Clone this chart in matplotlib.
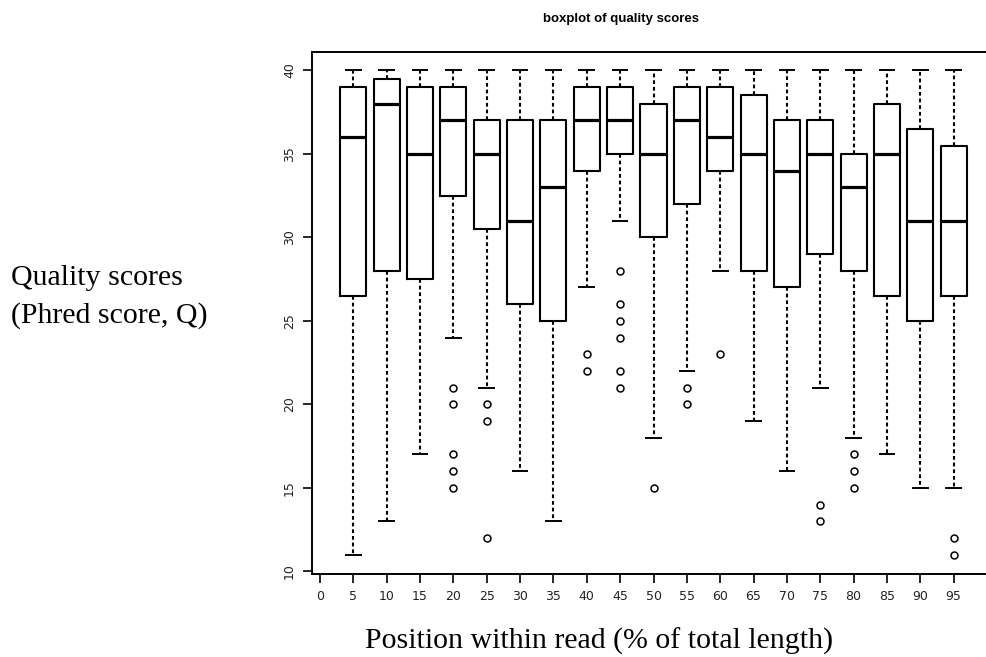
import matplotlib.pyplot as plt

# positions along the read (% of total length)
positions = [5, 10, 15, 20, 25, 30, 35, 40, 45, 50, 55, 60, 65, 70, 75, 80, 85, 90, 95]
whislo = [11, 13, 17, 24, 21, 16, 13, 27, 31, 18, 22, 28, 19, 16, 21, 18, 17, 15, 15]
q1 = [26.5, 28, 27.5, 32.5, 30.5, 26, 25, 34, 35, 30, 32, 34, 28, 27, 29, 28, 26.5, 25, 26.5]
med = [36, 38, 35, 37, 35, 31, 33, 37, 37, 35, 37, 36, 35, 34, 35, 33, 35, 31, 31]
q3 = [39, 39.5, 39, 39, 37, 37, 37, 39, 39, 38, 39, 39, 38.5, 37, 37, 35, 38, 36.5, 35.5]
whishi = [40] * 19
fliers = [[], [], [], [21, 20, 17, 16, 15], [20, 19, 12], [], [], [23, 22],
          [28, 26, 25, 24, 22, 21], [15], [21, 20], [23], [], [], [14, 13], [17, 16, 15],
          [], [], [12, 11]]

xticks = list(range(0, 100, 5))
yticks = [10, 15, 20, 25, 30, 35, 40]

stats = []
for i in range(len(positions)):
    stats.append(dict(whislo=whislo[i], q1=q1[i], med=med[i], q3=q3[i],
                      whishi=whishi[i], fliers=fliers[i]))

fig = plt.figure(figsize=(9.87, 6.57), dpi=100)
ax = fig.add_axes([312 / 987, 1 - 574 / 657, 1 - 312 / 987, (574 - 52) / 657])

ax.bxp(stats, positions=positions, widths=3.9, showfliers=True,
       boxprops=dict(color='black', linewidth=1.5),
       medianprops=dict(color='black', linewidth=2.3),
       whiskerprops=dict(color='black', linewidth=1.5, linestyle=(0, (1.8, 1.4))),
       capprops=dict(color='black', linewidth=1.4),
       capwidths=2.2,
       flierprops=dict(marker='o', markerfacecolor='none', markeredgecolor='black',
                       markersize=5, markeredgewidth=1.1))

ax.set_xlim(-1.2, 100)
ax.set_ylim(9.84, 41.1)
ax.set_xticks(xticks)
ax.set_xticklabels([str(t) for t in xticks], fontsize=9, family='DejaVu Sans', color='#222222')
ax.set_yticks(yticks)
ax.set_yticklabels([str(t) for t in yticks], fontsize=9, family='DejaVu Sans',
                   rotation=90, va='center', color='#222222')
ax.tick_params(length=6.5, width=1.2, pad=5)
for side in ['top', 'left', 'bottom']:
    ax.spines[side].set_linewidth(1.4)
ax.spines['right'].set_visible(False)

fig.text(621 / 987, 1 - 19 / 657, 'boxplot of quality scores', ha='center', va='center',
         fontsize=9.5, fontweight='bold', family='Liberation Sans')
fig.text(11 / 987, 1 - 285 / 657, 'Quality scores', ha='left', va='baseline',
         fontsize=21.5, family='Liberation Serif')
fig.text(11 / 987, 1 - 323 / 657, '(Phred score, Q)', ha='left', va='baseline',
         fontsize=21.5, family='Liberation Serif')
fig.text(599 / 987, 1 - 649 / 657, 'Position within read (% of total length)', ha='center',
         va='baseline', fontsize=21.5, family='Liberation Serif')

fig.savefig('out.png', dpi=100, facecolor='white')
